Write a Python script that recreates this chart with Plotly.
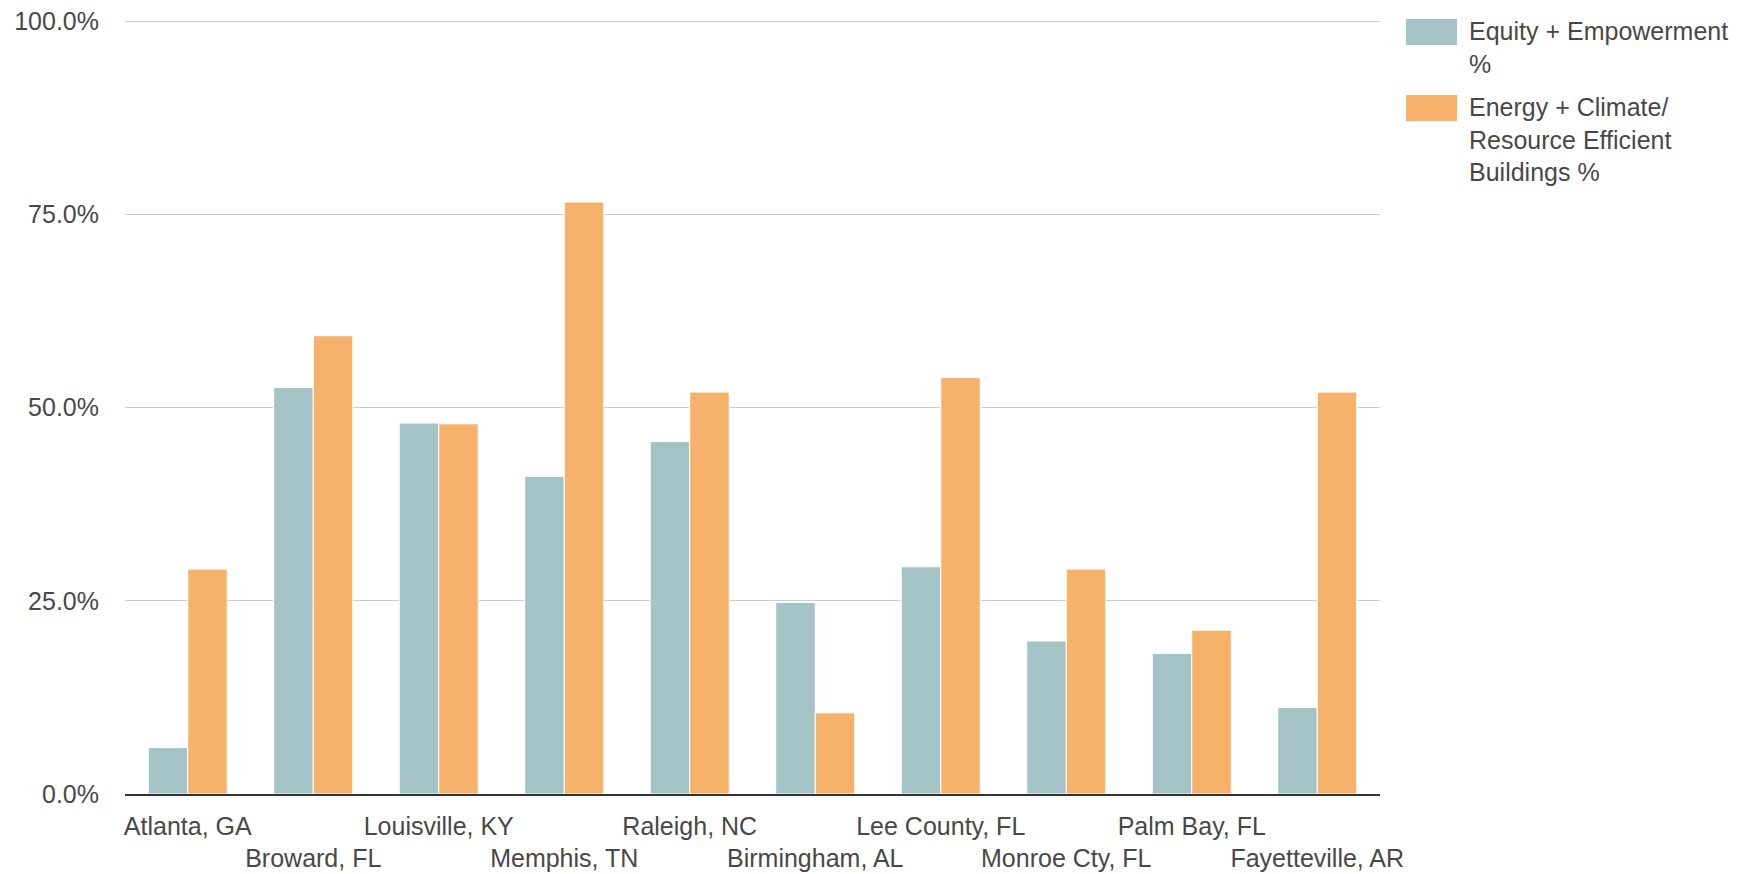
import plotly.graph_objects as go

cities = ["Atlanta, GA", "Broward, FL", "Louisville, KY", "Memphis, TN", "Raleigh, NC",
          "Birmingham, AL", "Lee County, FL", "Monroe Cty, FL", "Palm Bay, FL", "Fayetteville, AR"]
equity = [0.060, 0.526, 0.480, 0.411, 0.456, 0.248, 0.294, 0.198, 0.182, 0.112]
energy = [0.291, 0.593, 0.479, 0.766, 0.520, 0.105, 0.539, 0.291, 0.212, 0.520]
series_names = ["Equity + Empowerment<br>%", "Energy + Climate/<br>Resource Efficient<br>Buildings %"]
colors = ["#A3C3C6", "#F6B26B"]
y_ticks = [0, 0.25, 0.5, 0.75, 1.0]

FONT = "Arial, 'Liberation Sans', sans-serif"
TXT = "#484848"

W, H = 1740, 874
L, R, T, B = 125, 360, 20, 80
PW, PH = W - L - R, H - T - B

tick_text = [c if i % 2 == 0 else "<br>" + c for i, c in enumerate(cities)]

fig = go.Figure()
for vals, name, col in zip([equity, energy], series_names, colors):
    fig.add_trace(go.Bar(x=cities, y=vals, name=name, marker=dict(color=col, line=dict(color="white", width=1)),
                         showlegend=False))

fig.update_layout(
    width=W, height=H,
    margin=dict(l=L, r=R, t=T, b=B),
    paper_bgcolor="white", plot_bgcolor="white",
    barmode="group", bargap=0.37, bargroupgap=0,
    font=dict(family=FONT, size=25, color=TXT),
    xaxis=dict(tickmode="array", tickvals=cities, ticktext=tick_text, tickangle=0,
               showline=True, linecolor="#333333", linewidth=1.5, ticks="", showgrid=False,
               ticklabelstandoff=9, automargin=False,
               tickfont=dict(family=FONT, size=25, color=TXT)),
    yaxis=dict(range=[0, 1.0015], tickvals=y_ticks, tickformat=".1%", showgrid=True,
               gridcolor="#cccccc", gridwidth=1, zeroline=False, ticks="", ticklabelstandoff=25,
               automargin=False, ticklabeloverflow="allow",
               tickfont=dict(family=FONT, size=25, color=TXT)),
)

# legend drawn as swatches + text (page pixel positions)
legend_tops = [19, 95]
sx0, sx1, tx = 1406, 1457, 1467
for i, (name, col) in enumerate(zip(series_names, colors)):
    top = legend_tops[i]
    fig.add_shape(type="rect", xref="paper", yref="paper",
                  x0=(sx0 - L) / PW, x1=(sx1 - L) / PW,
                  y0=1 - (top - T) / PH, y1=1 - (top + 26 - T) / PH,
                  fillcolor=col, line=dict(width=0), layer="above")
    fig.add_annotation(xref="paper", yref="paper", x=(tx - L) / PW, y=1 - (top - 4 - T) / PH,
                       xanchor="left", yanchor="top", align="left", showarrow=False,
                       text=name, font=dict(family=FONT, size=25, color=TXT))

fig.write_html("out.html", config={"displayModeBar": False},
               post_script="document.body.style.margin='0';document.body.style.overflow='hidden';")
